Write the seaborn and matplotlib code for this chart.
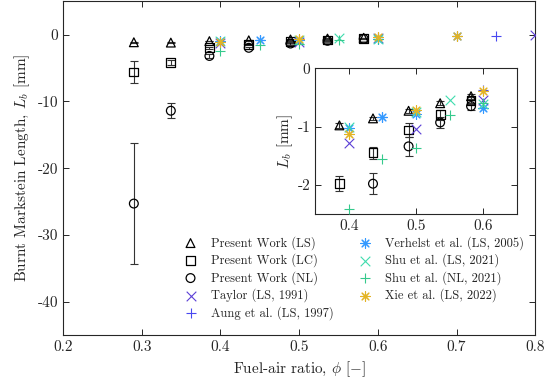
import seaborn as sns
import matplotlib.pyplot as plt
import pandas as pd

# present work (mean and error bar half-width)
phi_pw = [0.29, 0.337, 0.386, 0.436, 0.489, 0.536, 0.582]
lb_ls = [-1.15, -1.2, -0.98, -0.86, -0.73, -0.6, -0.48]
err_ls = [0.1, 0.1, 0.04, 0.03, 0.03, 0.03, 0.04]
lb_lc = [-5.6, -4.2, -1.97, -1.45, -1.06, -0.8, -0.56]
err_lc = [1.7, 0.4, 0.13, 0.1, 0.12, 0.08, 0.06]
lb_nl = [-25.3, -11.4, -3.2, -1.98, -1.34, -0.93, -0.65]
err_nl = [9.0, 1.1, 0.3, 0.18, 0.16, 0.1, 0.06]

# literature
phi_taylor = [0.4, 0.5, 0.6, 0.8]
lb_taylor = [-1.29, -1.05, -0.55, 0.0]
phi_aung = [0.45, 0.6, 0.75]
lb_aung = [-0.83, -0.37, -0.15]
phi_verhelst = [0.4, 0.45, 0.5, 0.6, 0.7]
lb_verhelst = [-1.03, -0.83, -0.78, -0.69, -0.28]
phi_shu_ls = [0.4, 0.5, 0.55, 0.6]
lb_shu_ls = [-1.01, -0.75, -0.54, -0.62]
phi_shu_nl = [0.4, 0.45, 0.5, 0.55, 0.6]
lb_shu_nl = [-2.41, -1.56, -1.37, -0.8, -0.6]
phi_xie = [0.4, 0.5, 0.6, 0.7]
lb_xie = [-1.13, -0.72, -0.39, -0.25]

sns.set_style('ticks')
plt.rcParams['font.family'] = 'serif'
plt.rcParams['font.serif'] = ['cmr10', 'DejaVu Serif']
plt.rcParams['mathtext.fontset'] = 'cm'
plt.rcParams['axes.unicode_minus'] = False
plt.rcParams['axes.formatter.use_mathtext'] = False
plt.rcParams['xtick.direction'] = 'in'
plt.rcParams['ytick.direction'] = 'in'
plt.rcParams['xtick.top'] = True
plt.rcParams['ytick.right'] = True

AST = (8, 2, 0)
lit = [
    ('Taylor (LS, 1991)', phi_taylor, lb_taylor, 'x', '#5b3fd6'),
    ('Aung et al. (LS, 1997)', phi_aung, lb_aung, '+', '#4848f0'),
    ('Verhelst et al. (LS, 2005)', phi_verhelst, lb_verhelst, AST, '#3399ff'),
    ('Shu et al. (LS, 2021)', phi_shu_ls, lb_shu_ls, 'x', '#3fdcae'),
    ('Shu et al. (NL, 2021)', phi_shu_nl, lb_shu_nl, '+', '#35c98c'),
    ('Xie et al. (LS, 2022)', phi_xie, lb_xie, AST, '#e3b325'),
]
pw = [
    ('Present Work (LS)', lb_ls, err_ls, '^'),
    ('Present Work (LC)', lb_lc, err_lc, 's'),
    ('Present Work (NL)', lb_nl, err_nl, 'o'),
]


def draw(ax, ms):
    for label, y, e, m in pw:
        ax.errorbar(phi_pw, y, yerr=e, fmt='none', ecolor='#333333',
                    elinewidth=0.8, capsize=3, capthick=0.8, zorder=2)
        df = pd.DataFrame({'phi': phi_pw, 'L': y})
        sns.scatterplot(data=df, x='phi', y='L', ax=ax, marker=m, s=ms,
                        facecolor='none', edgecolor='black', linewidth=0.9,
                        label=label, zorder=3)
    for label, x, y, m, c in lit:
        df = pd.DataFrame({'phi': x, 'L': y})
        sns.scatterplot(data=df, x='phi', y='L', ax=ax, marker=m, s=ms * 1.2,
                        color=c, edgecolor=c, linewidth=0.8, label=label,
                        zorder=4)


fig = plt.figure(figsize=(5.55, 3.92), dpi=100)
ax = fig.add_axes([0.1135, 0.145, 0.851, 0.852])
draw(ax, 40)
ax.set_xlim(0.2, 0.8)
ax.set_ylim(-45, 5)
ax.set_yticks([0, -10, -20, -30, -40])
ax.set_xlabel(r'Fuel-air ratio, $\phi$ [$-$]', fontsize=11)
ax.set_ylabel(r'Burnt Markstein Length, $L_b$ [mm]', fontsize=11)
ax.tick_params(labelsize=11, length=4, width=0.7)
for s in ax.spines.values():
    s.set_linewidth(0.8)

ax.legend(ncol=2, loc='lower left', bbox_to_anchor=(0.225, 0.02),
          frameon=False, fontsize=9, labelspacing=0.3, columnspacing=1.5,
          handletextpad=0.6, borderpad=0.2)

ins = fig.add_axes([0.568, 0.454, 0.363, 0.372])
draw(ins, 40)
if ins.get_legend():
    ins.get_legend().remove()
ins.set_xlim(0.35, 0.65)
ins.set_ylim(-2.5, 0)
ins.set_xticks([0.4, 0.5, 0.6])
ins.set_yticks([0, -1, -2])
ins.set_xlabel('')
ins.set_ylabel(r'$L_b$ [mm]', fontsize=11, labelpad=2)
ins.tick_params(labelsize=11, length=4, width=0.7)
for s in ins.spines.values():
    s.set_linewidth(0.8)

plt.savefig('out.png', dpi=100)
